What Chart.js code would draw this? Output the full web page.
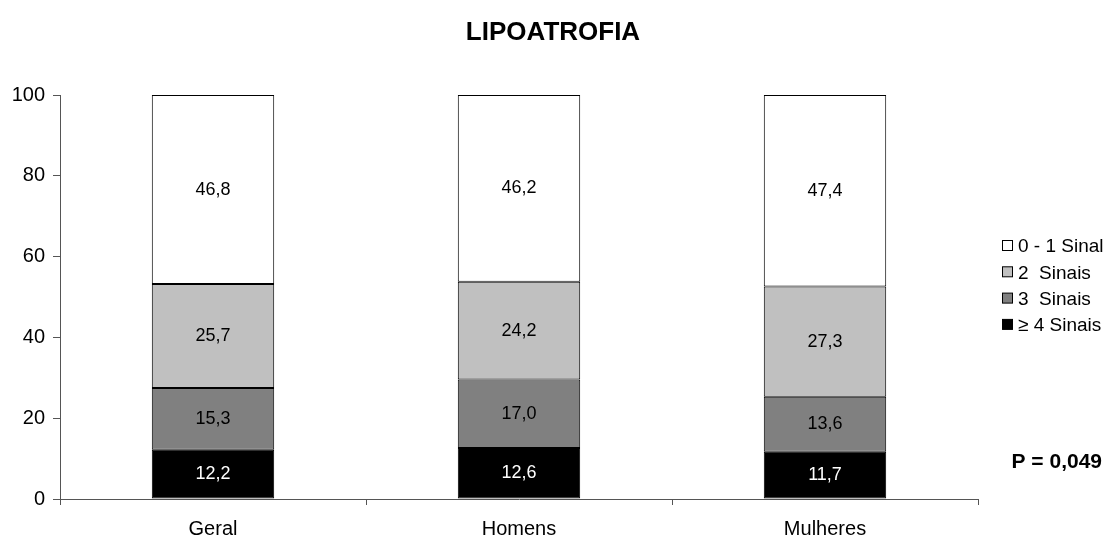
<!DOCTYPE html>
<html>
<head>
<meta charset="utf-8">
<script src="https://cdn.jsdelivr.net/npm/chart.js@4/dist/chart.umd.min.js"></script>
<style>
  html, body { margin: 0; padding: 0; background: #fff; }
  #wrap { width: 1107px; height: 542px; position: relative; }
</style>
</head>
<body>
<div id="wrap"><canvas id="c" width="1107" height="542"></canvas></div>
<script>
const categories = ['Geral', 'Homens', 'Mulheres'];
const seriesLabels = ['\u2265 4 Sinais', '3  Sinais', '2  Sinais', '0 - 1 Sinal'];
const sinais4 = [12.2, 12.6, 11.7];
const sinais3 = [15.3, 17.0, 13.6];
const sinais2 = [25.7, 24.2, 27.3];
const sinal01 = [46.8, 46.2, 47.4];
const yTicks = [0, 20, 40, 60, 80, 100];
const pValueText = 'P = 0,049';
const titleText = 'LIPOATROFIA';

const fills = ['#000000', '#808080', '#c0c0c0', '#ffffff'];
const labelColors = ['#ffffff', '#000000', '#000000', '#000000'];
const FONT = '"Liberation Sans", Arial, sans-serif';

const seriesValues = [sinais4, sinais3, sinais2, sinal01];

// Value labels inside each bar segment
const valueLabels = {
  id: 'valueLabels',
  afterDatasetsDraw(chart) {
    const ctx = chart.ctx;
    ctx.save();
    ctx.font = '18px ' + FONT;
    ctx.textAlign = 'center';
    ctx.textBaseline = 'middle';
    chart.data.datasets.forEach((ds, i) => {
      const meta = chart.getDatasetMeta(i);
      meta.data.forEach((bar, j) => {
        const v = ds.data[j];
        const mid = (bar.y + bar.base) / 2;
        ctx.fillStyle = labelColors[i];
        ctx.fillText(v.toFixed(1).replace('.', ','), bar.x, mid);
      });
    });
    ctx.restore();
  }
};

// Title, legend and p-value annotation
const decorations = {
  id: 'decorations',
  afterDraw(chart) {
    const ctx = chart.ctx;
    ctx.save();
    ctx.fillStyle = '#000';
    ctx.font = 'bold 26px ' + FONT;
    ctx.textAlign = 'center';
    ctx.textBaseline = 'middle';
    ctx.fillText(titleText, 553, 33);

    // legend, top row is the last series
    ctx.font = '19px ' + FONT;
    ctx.textAlign = 'left';
    const order = [3, 2, 1, 0];
    order.forEach((idx, r) => {
      const y = 246 + r * 26.3;
      ctx.fillStyle = fills[idx];
      ctx.fillRect(1002.5, y - 5.5, 10, 10);
      ctx.strokeStyle = '#000';
      ctx.lineWidth = 1;
      ctx.strokeRect(1002.5, y - 5.5, 10, 10);
      ctx.fillStyle = '#000';
      ctx.fillText(seriesLabels[idx], 1018, y + 1);
    });

    ctx.font = 'bold 21px ' + FONT;
    ctx.textAlign = 'right';
    ctx.fillText(pValueText, 1102, 462);
    ctx.restore();
  }
};

new Chart(document.getElementById('c'), {
  type: 'bar',
  data: {
    labels: categories,
    datasets: seriesValues.map((vals, i) => ({
      label: seriesLabels[i],
      data: vals,
      backgroundColor: fills[i],
      borderColor: '#000',
      borderWidth: 1,
      borderSkipped: false,
      categoryPercentage: 0.4,
      barPercentage: 1.0
    }))
  },
  options: {
    responsive: false,
    animation: false,
    devicePixelRatio: 1,
    layout: { padding: { top: 95, right: 129, left: 0, bottom: 0 } },
    plugins: {
      legend: { display: false },
      title: { display: false },
      tooltip: { enabled: false }
    },
    scales: {
      x: {
        stacked: true,
        offset: true,
        grid: {
          offset: true,
          drawOnChartArea: false,
          drawTicks: true,
          tickLength: 6,
          color: '#555'
        },
        border: { color: '#555', width: 1 },
        ticks: { color: '#000', font: { family: FONT, size: 20 }, padding: 12 },
        afterFit(scale) { scale.height = 43; }
      },
      y: {
        stacked: true,
        min: 0,
        max: 100,
        afterBuildTicks(scale) { scale.ticks = yTicks.map(v => ({ value: v })); },
        grid: {
          drawOnChartArea: false,
          drawTicks: true,
          tickLength: 7,
          color: '#555'
        },
        border: { color: '#555', width: 1 },
        ticks: { color: '#000', font: { family: FONT, size: 20 }, padding: 8 },
        afterFit(scale) { scale.width = 60; }
      }
    }
  },
  plugins: [valueLabels, decorations]
});
</script>
</body>
</html>
